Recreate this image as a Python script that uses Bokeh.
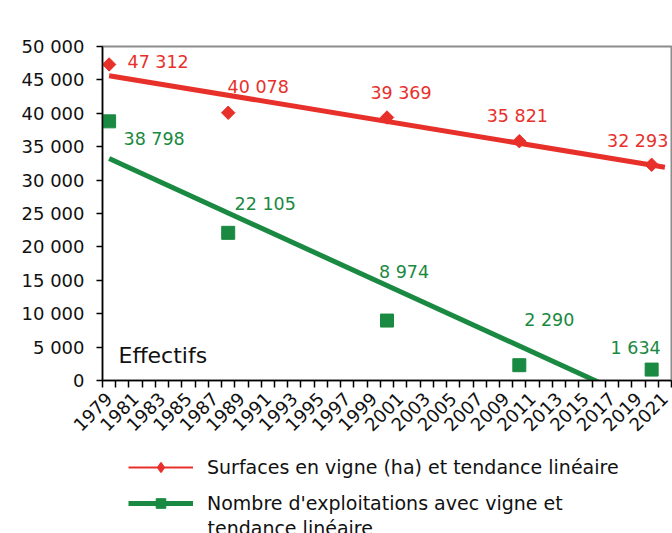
from math import pi
from bokeh.plotting import figure
from bokeh.layouts import column
from bokeh.models import (ColumnDataSource, Range1d, FixedTicker, CustomJSTickFormatter,
                          Legend, LegendItem, Label)
from bokeh.core.properties import value
from bokeh.embed import file_html
from bokeh.resources import INLINE

# ---- data ----
years = [1979, 1988, 2000, 2010, 2020]
surfaces = [47312, 40078, 39369, 35821, 32293]
exploitations = [38798, 22105, 8974, 2290, 1634]
trend_years = [1979, 2021]
surfaces_trend = [45630, 31930]
exploitations_trend = [33220, -4790]
x_tick_years = list(range(1979, 2022, 2))
y_ticks = list(range(0, 50001, 5000))
legend_labels = ["Surfaces en vigne (ha) et tendance linéaire",
                 "Nombre d'exploitations avec vigne et", "tendance linéaire"]

RED = "#E8302B"
GREEN = "#1A8941"
FONT = "DejaVu Sans"
TXT = "#111111"
NAN = float("nan")


def fmt(v):
    return f"{v:,}".replace(",", " ")


p = figure(width=672, height=440, output_backend="svg", toolbar_location=None,
           x_range=Range1d(1978.5, 2021.5), y_range=Range1d(0, 50000),
           min_border_left=102, min_border_right=1, min_border_top=46, min_border_bottom=60)

p.xgrid.visible = False
p.ygrid.visible = False
p.outline_line_color = "#8C8C8C"
p.outline_line_width = 2

# x axis
p.xaxis.ticker = FixedTicker(ticks=x_tick_years,
                             minor_ticks=[y - 0.5 for y in range(1979, 2023)])
p.xaxis.formatter = CustomJSTickFormatter(code="return Math.round(tick).toString();")
p.xaxis.major_tick_out = 0
p.xaxis.major_tick_in = 0
p.xaxis.minor_tick_out = 7
p.xaxis.minor_tick_in = 0
p.xaxis.minor_tick_line_color = "black"
p.xaxis.minor_tick_line_width = 1.5
p.xaxis.major_label_orientation = pi / 4
p.xaxis.major_label_standoff = 8

# y axis
p.yaxis.ticker = FixedTicker(ticks=y_ticks, minor_ticks=[])
p.yaxis.formatter = CustomJSTickFormatter(
    code="return Math.round(tick).toString().replace(/\\B(?=(\\d{3})+(?!\\d))/g, ' ');")
p.yaxis.major_tick_out = 6
p.yaxis.major_tick_in = 0
p.yaxis.major_label_standoff = 12

for ax in (p.xaxis, p.yaxis):
    ax.axis_line_color = "black"
    ax.axis_line_width = 1.5
    ax.major_tick_line_color = "black"
    ax.major_tick_line_width = 1.5
    ax.major_label_text_font = FONT
    ax.major_label_text_font_size = "18px"
    ax.major_label_text_color = TXT

# trend lines
p.line(trend_years, surfaces_trend, line_color=RED, line_width=5)
p.line(trend_years, exploitations_trend, line_color=GREEN, line_width=5)

# points
p.scatter(years, surfaces, marker="square", angle=pi / 4, size=9.5,
          fill_color=RED, line_color=RED)
p.scatter(years, exploitations, marker="square", size=13,
          fill_color=GREEN, line_color=GREEN)

# data labels
lab_src = ColumnDataSource(dict(
    x=years + years,
    y=surfaces + exploitations,
    text=[fmt(v) for v in surfaces + exploitations],
    dx=[49, 30, 14, -2, -14, 45, 37, 17, 30, -16],
    dy=[-2, -26, -25, -25, -24, 18, -29, -49, -45, -22],
    color=[RED] * 5 + [GREEN] * 5,
))
p.text(x="x", y="y", text="text", x_offset="dx", y_offset="dy", text_color="color",
       text_align="center", text_baseline="middle", text_font=value(FONT),
       text_font_size="17.5px", source=lab_src)

p.add_layout(Label(x=1979.71, y=3740, text="Effectifs", text_baseline="middle",
                   text_font=FONT, text_font_size="22px", text_color=TXT))

# ---- legend panel (frame aligned with the chart frame: x in page pixels) ----
lg = figure(width=672, height=93, output_backend="svg", toolbar_location=None,
            x_range=Range1d(102, 671), y_range=Range1d(0, 93), title=None,
            x_axis_type=None, y_axis_type=None, min_border=0)
lg.grid.visible = False
lg.outline_line_color = None

r_line = lg.line(x=[NAN], y=[NAN], line_color=RED, line_width=2)
r_mark = lg.scatter(x=[NAN], y=[NAN], marker="diamond", size=12,
                    fill_color=RED, line_color=RED, line_width=1.5)
g_line = lg.line(x=[NAN], y=[NAN], line_color=GREEN, line_width=5)
g_mark = lg.scatter(x=[NAN], y=[NAN], marker="square", size=13,
                    fill_color=GREEN, line_color=GREEN)

legend = Legend(items=[
    LegendItem(label=legend_labels[0], renderers=[r_line, r_mark]),
    LegendItem(label=legend_labels[1], renderers=[g_line, g_mark]),
], location=(26, 18), orientation="vertical", padding=0, margin=0, spacing=12,
    glyph_width=65, glyph_height=24, label_height=24, label_standoff=14,
    border_line_color=None, background_fill_alpha=0,
    label_text_font=FONT, label_text_font_size="19px", label_text_color=TXT)
lg.add_layout(legend)

lg.add_layout(Label(x=207, y=6, text=legend_labels[2], text_baseline="middle",
                    text_font=FONT, text_font_size="19px", text_color=TXT))

open("out.html", "w").write(file_html(column(p, lg, spacing=0), INLINE))
